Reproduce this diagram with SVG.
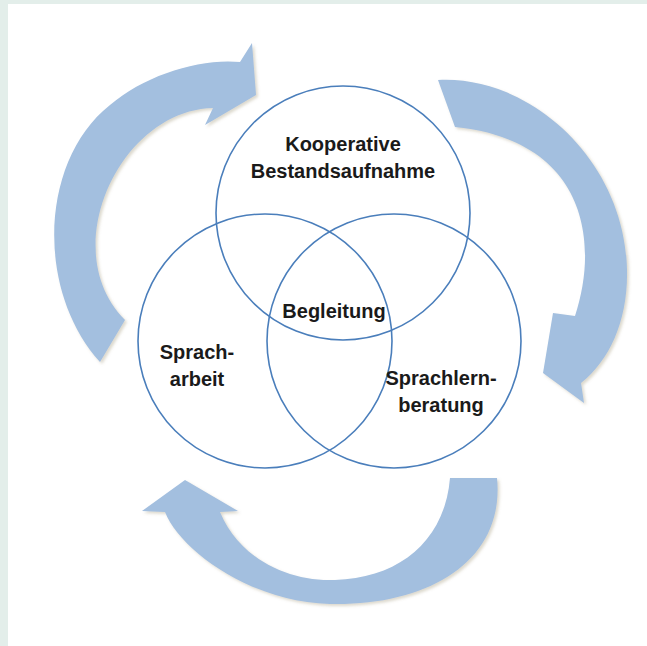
<svg xmlns="http://www.w3.org/2000/svg" width="647" height="646" viewBox="0 0 647 646">
<style>
.arrow{fill:#a3bfdf;filter:url(#sh)}
.ring{fill:none;stroke:#4a7ebb;stroke-width:1.6}
.lbl{font-family:"Liberation Sans",Arial,sans-serif;font-weight:bold;font-size:20px;fill:#1a1a1a;text-anchor:middle}
</style>
<defs>
<filter id="sh" x="-10%" y="-10%" width="125%" height="125%">
<feDropShadow dx="2" dy="2" stdDeviation="1.8" flood-color="#9a9270" flood-opacity="0.35"/>
</filter>
</defs>
<rect x="0" y="0" width="647" height="646" fill="#e3eeea"/>
<rect x="8" y="4" width="639" height="642" fill="#ffffff"/>
<g id="connectors">
<path id="arrow-top-left" class="arrow" d="M100 362 C35 290 40 160 110 105 C145 75 200 58 240 62 L252 43 L256 95 L205 125 L213 108 C120 110 55 250 125 320 Z"/>
<path id="arrow-right" class="arrow" d="M438 80 C530 75 625 160 627 270 C628 320 610 360 581 383 L584 403 L543 373 L553 313 L575 316 C600 240 585 140 455 127 Z"/>
<path id="arrow-bottom" class="arrow" d="M450 478 L497 478 C505 560 430 606 330 604 C250 602 180 550 165 512 L142 511 L185 480 L238 511 L220 512 C240 560 290 582 335 580 C400 578 445 540 450 478 Z"/>
</g>
<g id="node-kooperative">
<circle class="ring" cx="343" cy="213" r="127"/>
<text class="lbl" x="343" y="151">Kooperative</text>
<text class="lbl" x="343" y="178">Bestandsaufnahme</text>
</g>
<g id="node-spracharbeit">
<circle class="ring" cx="265" cy="341" r="127"/>
<text class="lbl" x="197" y="359">Sprach-</text>
<text class="lbl" x="197" y="386">arbeit</text>
</g>
<g id="node-sprachlernberatung">
<circle class="ring" cx="394" cy="341" r="127"/>
<text class="lbl" x="441" y="385">Sprachlern-</text>
<text class="lbl" x="441" y="412">beratung</text>
</g>
<g id="node-begleitung">
<text class="lbl" x="334" y="318">Begleitung</text>
</g>
</svg>
